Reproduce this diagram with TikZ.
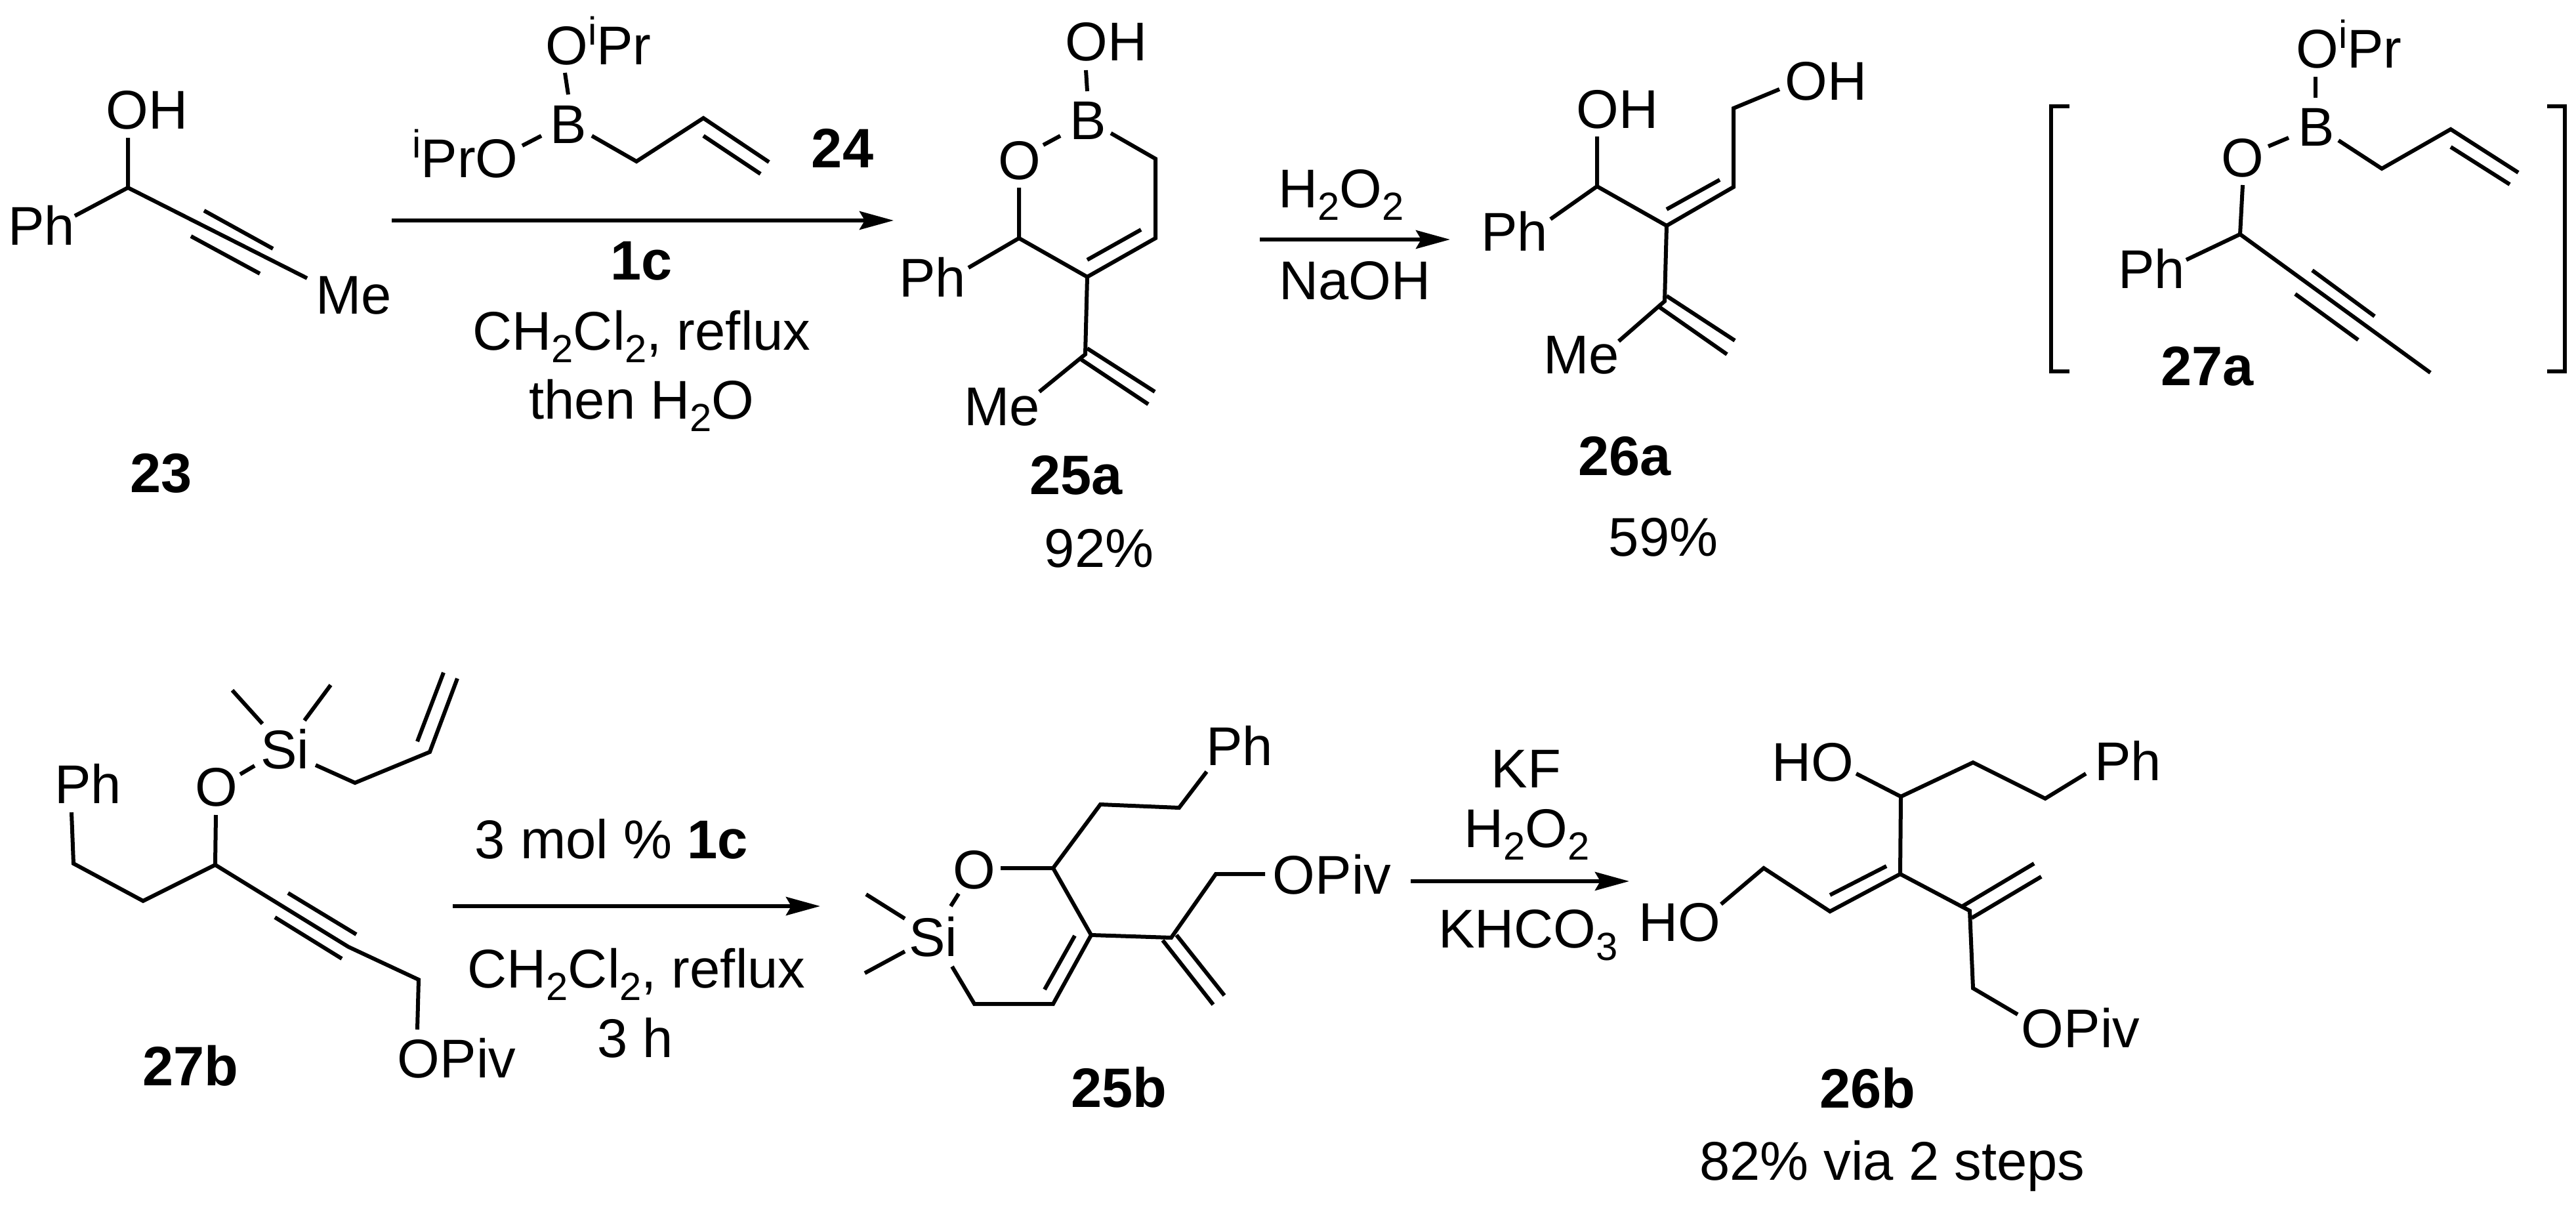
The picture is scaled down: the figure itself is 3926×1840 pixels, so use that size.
\documentclass[tikz,border=0pt]{standalone}
\usepackage{fontspec}
\setmainfont{Liberation Sans}
\usetikzlibrary{arrows.meta}
\newcommand{\dsub}[1]{\raisebox{-19bp}{\fontsize{60}{60}\selectfont #1}}
\newcommand{\isup}{\raisebox{30bp}{\fontsize{60}{60}\selectfont i}}
\tikzset{
  bond/.style={line width=6bp,line join=miter,line cap=butt,black},
  arr/.style={line width=6bp,black,-{Stealth[length=52bp,width=28bp,inset=8bp]}},
  lab/.style={inner sep=0pt,outer sep=0pt,anchor=base,font=\fontsize{83.5}{98}\selectfont,text=black},
  cpd/.style={lab,font=\fontsize{85}{98}\selectfont\bfseries}
}
\begin{document}
\begin{tikzpicture}[x=1bp,y=-1bp]
\useasboundingbox (0,0) rectangle (3926,1840);
% ---------- texts
\node[lab] (aOH) at (224,196) {OH};
\node[lab] (aPh) at (63,373) {Ph};
\node[lab] (aMe) at (539,478) {Me};
\node[cpd] (a23) at (246,750) {23};
\node[lab] (bO) at (912,98) {O\isup Pr};
\node[lab] (bB) at (866,218) {B};
\node[lab] (bOi) at (709,270) {\isup PrO};
\node[cpd] (b24) at (1284,255) {24};
\node[cpd] (r1c) at (978,426) {1c};
\node[lab] (r1a) at (978,533) {CH\dsub{2}Cl\dsub{2}, reflux};
\node[lab] (r1b) at (978,638) {then H\dsub{2}O};
\node[lab] (cOH) at (1686,92) {OH};
\node[lab] (cB) at (1658,212) {B};
\node[lab] (cO) at (1554,273) {O};
\node[lab] (cPh) at (1421,452) {Ph};
\node[lab] (cMe) at (1527,648) {Me};
\node[cpd] (c25) at (1640,753) {25a};
\node[lab] (cy) at (1675,864) {92\%};
\node[lab] (r2a) at (2044,316) {H\dsub{2}O\dsub{2}};
\node[lab] (r2b) at (2065,456) {NaOH};
\node[lab] (dOH) at (2465,195) {OH};
\node[lab] (dPh) at (2308,382) {Ph};
\node[lab] (dMe) at (2410,569) {Me};
\node[lab] (dOH2) at (2783,152) {OH};
\node[cpd] (d26) at (2476,724) {26a};
\node[lab] (dy) at (2535,847) {59\%};
\node[lab] (eOi) at (3580,103) {O\isup Pr};
\node[lab] (eB) at (3530,222) {B};
\node[lab] (eO) at (3418,269) {O};
\node[lab] (ePh) at (3279,439) {Ph};
\node[cpd] (e27) at (3364,587) {27a};
\node[lab] (fPh) at (134,1224) {Ph};
\node[lab] (fO) at (330,1228) {O};
\node[lab] (fSi) at (434,1171) {Si};
\node[lab] (fPiv) at (696,1642) {OPiv};
\node[cpd] (f27) at (290,1654) {27b};
\node[lab] (r3a) at (932,1308) {3 mol \% \textbf{1c}};
\node[lab] (r3b) at (970,1505) {CH\dsub{2}Cl\dsub{2}, reflux};
\node[lab] (r3c) at (968,1611) {3 h};
\node[lab] (gPh) at (1889,1166) {Ph};
\node[lab] (gO) at (1485,1354) {O};
\node[lab] (gSi) at (1422,1457) {Si};
\node[lab] (gPiv) at (2030,1362) {OPiv};
\node[cpd] (g25) at (1705,1687) {25b};
\node[lab] (r4a) at (2326,1200) {KF};
\node[lab] (r4b) at (2327,1291) {H\dsub{2}O\dsub{2}};
\node[lab] (r4c) at (2329,1444) {KHCO\dsub{3}};
\node[lab] (hHO) at (2763,1190) {HO};
\node[lab] (hPh) at (3243,1189) {Ph};
\node[lab] (hHO2) at (2560,1434) {HO};
\node[lab] (hPiv) at (3171,1596) {OPiv};
\node[cpd] (h26) at (2846,1688) {26b};
\node[lab] (hy) at (2884,1798) {82\% via 2 steps};
% ---------- atoms and bond ends
\foreach \n/\x/\y in {
 a1/195/210, a2/195/286, a3/114/329, a4/468/424, a5/311/321, a6/416/379, a7/291/360, a8/396/417,
 b1/861/111, b2/866/144, b3/796/222, b4/825/207, b5/902/207, b6/970/246, b7/1072/180, b8/1172/247, b9/1072/207, b10/1159/265,
 c1/1655/107, c2/1657/139, c3/1590/221, c4/1616/207, c5/1693/203, c6/1761/242, c7/1761/363, c8/1657/422, c9/1553/363, c10/1553/286,
 c11/1739/350, c12/1657/396, c13/1476/408, c14/1654/540, c15/1657/531, c16/1760/597, c17/1648/548, c18/1750/616, c19/1584/597,
 d1/2434/208, d2/2434/284, d3/2363/334, d4/2540/344, d5/2537/459, d6/2467/520, d7/2540/451, d8/2644/519, d9/2529/468, d10/2632/540,
 d11/2642/285, d12/2540/319, d13/2621/274, d14/2642/165, d15/2712/136,
 e1/3529/117, e2/3529/149, e3/3457/223, e4/3488/210, e5/3564/214, e6/3630/257, e7/3735/197, e8/3838/263, e9/3735/224, e10/3825/281,
 e11/3418/282, e12/3414/357, e13/3332/396, e14/3704/568, e15/3524/412, e16/3619/482, e17/3498/448, e18/3594/518,
 f1/354/1052, f2/400/1103, f3/504/1044, f4/464/1098, f5/366/1180, f6/388/1167, f7/481/1166, f8/541/1193, f9/655/1146, f10/697/1034,
 f11/636/1130, f12/676/1025, f13/329/1242, f14/328/1318, f15/218/1373, f16/112/1316, f17/109/1238, f18/531/1443, f19/638/1493, f20/636/1569,
 f21/439/1361, f22/543/1424, f23/419/1398, f24/521/1461,
 g1/1839/1176, g2/1797/1231, g3/1677/1226, g4/1605/1323, g5/1525/1323, g6/1663/1425, g7/1605/1530, g8/1638/1426, g9/1592/1508,
 g10/1485/1530, g11/1451/1473, g12/1461/1362, g13/1449/1381, g14/1320/1363, g15/1379/1400, g16/1318/1483, g17/1379/1450,
 g18/1785/1429, g19/1853/1332, g20/1928/1332, g21/1793/1425, g22/1866/1517, g23/1772/1433, g24/1849/1531,
 h1/2829/1179, h2/2897/1214, h3/3007/1162, h4/3117/1217, h5/3179/1179, h6/2896/1332, h7/2789/1389, h8/2875/1320, h9/2789/1364,
 h10/2688/1323, h11/2623/1378, h12/3002/1388, h13/2991/1381, h14/3100/1316, h15/3005/1399, h16/3111/1336, h17/3007/1506, h18/3075/1546,
 bl1/3154/162, bl2/3126/162, bl3/3126/566, bl4/3154/566, br1/3882/162, br2/3909/162, br3/3909/566, br4/3882/566,
 ar1a/597/336, ar1b/1362/336, ar2a/1920/365, ar2b/2210/365, ar3a/690/1381, ar3b/1250/1381, ar4a/2150/1343, ar4b/2483/1343}
 {\coordinate (\n) at (\x,\y);}
% ---------- bonds
\draw[bond] (a1)--(a2)--(a4);
\draw[bond] (a2)--(a3);
\draw[bond] (a5)--(a6);
\draw[bond] (a7)--(a8);
\draw[bond] (b1)--(b2);
\draw[bond] (b3)--(b4);
\draw[bond] (b5)--(b6)--(b7)--(b8);
\draw[bond] (b9)--(b10);
\draw[bond] (c1)--(c2);
\draw[bond] (c3)--(c4);
\draw[bond] (c5)--(c6)--(c7)--(c8)--(c9)--(c10);
\draw[bond] (c11)--(c12);
\draw[bond] (c9)--(c13);
\draw[bond] (c8)--(c14)--(c19);
\draw[bond] (c15)--(c16);
\draw[bond] (c17)--(c18);
\draw[bond] (d1)--(d2)--(d4)--(d5)--(d6);
\draw[bond] (d2)--(d3);
\draw[bond] (d7)--(d8);
\draw[bond] (d9)--(d10);
\draw[bond] (d4)--(d11)--(d14)--(d15);
\draw[bond] (d12)--(d13);
\draw[bond] (e1)--(e2);
\draw[bond] (e3)--(e4);
\draw[bond] (e5)--(e6)--(e7)--(e8);
\draw[bond] (e9)--(e10);
\draw[bond] (e11)--(e12)--(e14);
\draw[bond] (e12)--(e13);
\draw[bond] (e15)--(e16);
\draw[bond] (e17)--(e18);
\draw[bond] (bl1)--(bl2)--(bl3)--(bl4);
\draw[bond] (br1)--(br2)--(br3)--(br4);
\draw[bond] (f1)--(f2);
\draw[bond] (f3)--(f4);
\draw[bond] (f5)--(f6);
\draw[bond] (f7)--(f8)--(f9)--(f10);
\draw[bond] (f11)--(f12);
\draw[bond] (f13)--(f14)--(f15)--(f16)--(f17);
\draw[bond] (f14)--(f18)--(f19)--(f20);
\draw[bond] (f21)--(f22);
\draw[bond] (f23)--(f24);
\draw[bond] (g1)--(g2)--(g3)--(g4)--(g5);
\draw[bond] (g4)--(g6)--(g7)--(g10)--(g11);
\draw[bond] (g8)--(g9);
\draw[bond] (g12)--(g13);
\draw[bond] (g14)--(g15);
\draw[bond] (g16)--(g17);
\draw[bond] (g6)--(g18)--(g19)--(g20);
\draw[bond] (g21)--(g22);
\draw[bond] (g23)--(g24);
\draw[bond] (h1)--(h2)--(h3)--(h4)--(h5);
\draw[bond] (h2)--(h6)--(h7)--(h10)--(h11);
\draw[bond] (h8)--(h9);
\draw[bond] (h6)--(h12)--(h17)--(h18);
\draw[bond] (h13)--(h14);
\draw[bond] (h15)--(h16);
% ---------- arrows
\draw[arr] (ar1a)--(ar1b);
\draw[arr] (ar2a)--(ar2b);
\draw[arr] (ar3a)--(ar3b);
\draw[arr] (ar4a)--(ar4b);
\end{tikzpicture}
\end{document}
